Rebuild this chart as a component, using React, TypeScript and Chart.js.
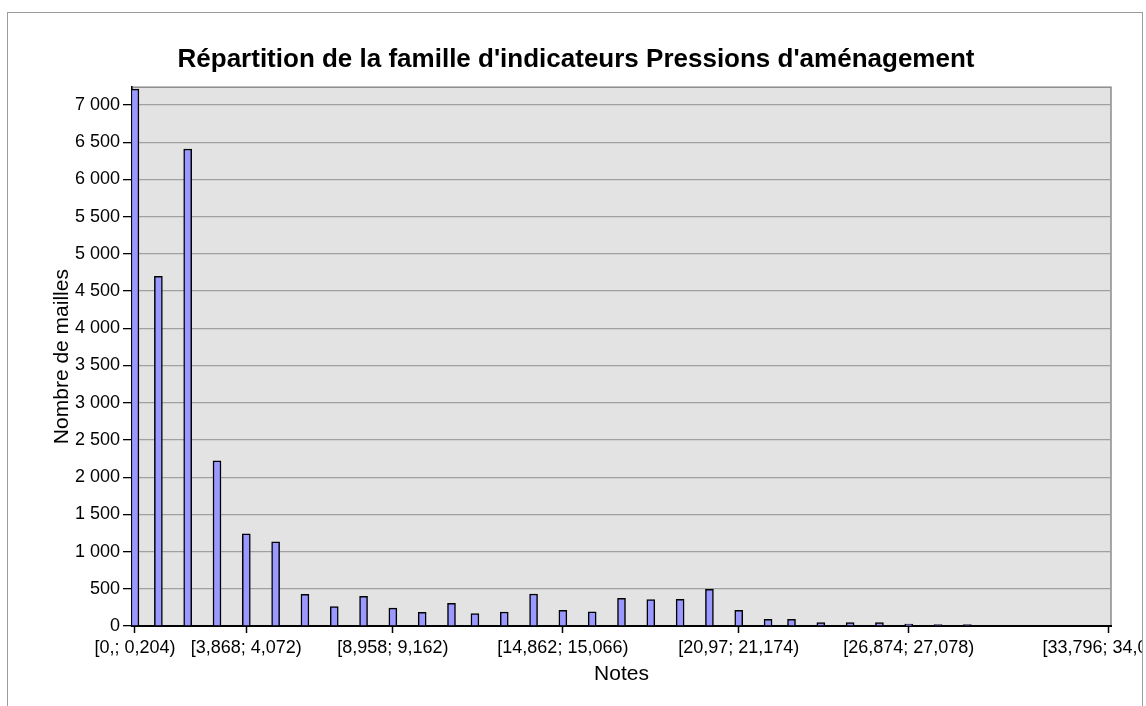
import { useEffect, useRef } from "react";
import { Chart, registerables } from "chart.js";

Chart.register(...registerables);

// ---- Data ----
const notes = [0, 1, 2, 3, 4, 5, 6, 7, 8, 9, 10, 11, 12, 13, 14, 15, 16, 17, 18, 19, 20, 21, 22, 23, 24, 25, 26, 27, 28, 29];
// class (bin) index of each note on the category axis (bins of width ~0.2036)
const binIndex = [0, 4, 9, 14, 19, 24, 29, 34, 39, 44, 49, 54, 58, 63, 68, 73, 78, 83, 88, 93, 98, 103, 108, 112, 117, 122, 127, 132, 137, 142];
const counts = [7215, 4700, 6410, 2220, 1240, 1130, 425, 260, 400, 240, 185, 305, 168, 188, 430, 212, 190, 373, 355, 357, 493, 212, 90, 90, 45, 45, 45, 25, 20, 20];

const xTickIndex = [0, 19, 44, 73, 103, 132, 166];
const xTickLabels = [
  "[0,; 0,204)",
  "[3,868; 4,072)",
  "[8,958; 9,162)",
  "[14,862; 15,066)",
  "[20,97; 21,174)",
  "[26,874; 27,078)",
  "[33,796; 34,000)",
];
const yTickValues = [0, 500, 1000, 1500, 2000, 2500, 3000, 3500, 4000, 4500, 5000, 5500, 6000, 6500, 7000];

const chartTitle = "Répartition de la famille d'indicateurs Pressions d'aménagement";
const xTitle = "Notes";
const yTitle = "Nombre de mailles";

const FONT = "'Liberation Sans', Arial, Helvetica, sans-serif";

function fmtThousands(v: number): string {
  return String(v).replace(/\B(?=(\d{3})+(?!\d))/g, "\u00a0");
}

const plotBg = {
  id: "plotBg",
  beforeDraw(chart: any) {
    const { ctx, chartArea: a } = chart;
    if (!a) return;
    ctx.save();
    ctx.fillStyle = "#E3E3E3";
    ctx.fillRect(a.left, a.top, a.right - a.left, a.bottom - a.top);
    ctx.strokeStyle = "#8C8C8C";
    ctx.lineWidth = 1.5;
    ctx.strokeRect(a.left, a.top, a.right - a.left, a.bottom - a.top);
    ctx.restore();
  },
};

export default function App() {
  const ref = useRef<HTMLCanvasElement | null>(null);

  useEffect(() => {
    if (!ref.current) return;
    const data = notes.map((_, i) => ({ x: binIndex[i], y: counts[i] }));
    const chart = new Chart(ref.current, {
      type: "bar",
      data: {
        datasets: [
          {
            label: yTitle,
            data: data as any,
            backgroundColor: "#9999FF",
            borderColor: "#000000",
            borderWidth: 1.5,
            barThickness: 8,
            clip: 0 as any,
          },
        ],
      },
      plugins: [plotBg],
      options: {
        animation: false,
        responsive: false,
        devicePixelRatio: 1,
        layout: { padding: { left: 33, right: 31, top: 0, bottom: 0 } },
        plugins: {
          legend: { display: false },
          tooltip: { enabled: false },
          title: {
            display: true,
            text: chartTitle,
            color: "#000",
            font: { family: FONT, size: 26, weight: "bold" },
            padding: { top: 31, bottom: 12 },
          },
        },
        scales: {
          x: {
            type: "linear",
            min: -0.5,
            max: 166.5,
            offset: false,
            afterBuildTicks: (s: any) => {
              s.ticks = xTickIndex.map((v) => ({ value: v }));
            },
            afterFit: (s: any) => {
              s.paddingLeft = 0;
              s.paddingRight = 0;
              s.height = 80;
            },
            ticks: {
              autoSkip: false,
              maxRotation: 0,
              minRotation: 0,
              padding: 4,
              color: "#000",
              font: { family: FONT, size: 18 },
              callback: (v: any) => {
                const i = xTickIndex.indexOf(Number(v));
                return i >= 0 ? xTickLabels[i] : "";
              },
            },
            grid: {
              display: true,
              drawOnChartArea: false,
              drawTicks: true,
              tickLength: 7,
              tickColor: "#000",
              tickWidth: 1.5,
              offset: false,
            },
            border: { display: true, color: "#000", width: 2 },
            title: {
              display: true,
              text: xTitle,
              color: "#000",
              font: { family: FONT, size: 21 },
              padding: { top: 0, bottom: 19 },
            },
          },
          y: {
            min: 0,
            max: 7240,
            afterBuildTicks: (s: any) => {
              s.ticks = yTickValues.map((v) => ({ value: v }));
            },
            afterFit: (s: any) => {
              s.width = 91;
            },
            ticks: {
              padding: 3,
              color: "#000",
              font: { family: FONT, size: 18 },
              callback: (v: any) => fmtThousands(Number(v)),
            },
            grid: {
              color: "#A0A0A0",
              lineWidth: 1.3,
              drawTicks: true,
              tickLength: 9,
              tickColor: "#000",
              tickWidth: 1.3,
            },
            border: { display: true, color: "#000", width: 1.5 },
            title: {
              display: true,
              text: yTitle,
              color: "#000",
              font: { family: FONT, size: 21 },
              padding: { top: 9, bottom: 0 },
            },
          },
        },
      } as any,
    });
    return () => chart.destroy();
  }, []);

  return (
    <div
      style={{
        position: "absolute",
        left: 0,
        top: 0,
        width: 1146,
        height: 706,
        overflow: "hidden",
        background: "#fff",
      }}
    >
      <div
        style={{
          position: "absolute",
          left: 7,
          top: 12,
          width: 1134,
          height: 760,
          border: "1px solid #9C9C9C",
          background: "#fff",
        }}
      >
        <canvas ref={ref} width={1134} height={693} style={{ display: "block", width: 1134, height: 693 }} />
      </div>
    </div>
  );
}
